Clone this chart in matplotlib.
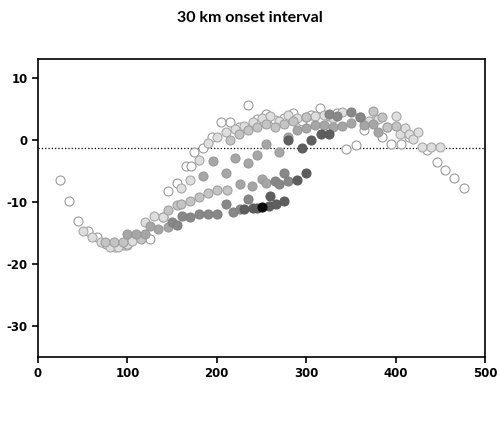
import matplotlib.pyplot as plt

plt.rcParams['font.family'] = ['Lato', 'DejaVu Sans']
plt.rcParams['axes.unicode_minus'] = False

# open circles
open_x = [25, 35, 45, 56, 66, 76, 86, 96, 100, 125, 140, 145, 155, 165, 171, 175, 185, 195, 205, 215,
          225, 235, 245, 255, 265, 275, 285, 295, 305, 315, 325, 335, 345, 356, 365, 375, 385, 395, 406,
          415, 435, 446, 455, 465, 476]
open_y = [-6.4, -9.9, -13.1, -14.7, -15.6, -16.8, -17.2, -17.0, -17.0, -16.0, -12.5, -8.2, -7.0, -4.3, -4.3,
          -1.9, -1.4, 0.4, 2.8, 2.8, 2.0, 5.6, 3.3, 4.1, 3.2, 3.5, 4.3, 3.0, 4.0, 5.1, 3.8, 4.3, -1.5, -0.8,
          1.5, 3.0, 0.5, -0.6, -0.6, 0.4, -1.7, -3.6, -4.9, -6.2, -7.8]

# lightest grey
g1_x = [50, 60, 70, 80, 90, 100, 105, 120, 130, 140, 160, 170, 180, 190, 200, 210, 220, 230, 240, 250,
        260, 270, 280, 290, 300, 310, 320, 330, 340, 360, 370, 380, 390, 400, 405, 410, 415, 420, 425,
        430, 440, 450]
g1_y = [-14.7, -15.6, -16.5, -17.2, -17.2, -16.8, -16.3, -13.2, -12.3, -12.4, -7.8, -6.5, -3.2, -0.5, 0.5,
        1.2, 1.8, 2.3, 2.8, 3.5, 3.8, 3.0, 4.0, 3.5, 3.7, 3.8, 4.0, 3.5, 4.4, 3.7, 3.0, 3.3, 2.1, 3.9, 0.9,
        1.9, 1.0, 0.1, 1.2, -1.2, -1.2, -1.2]

# light grey
g2_x = [75, 85, 95, 115, 145, 155, 160, 170, 180, 190, 200, 211, 215, 225, 235, 245, 255, 265, 275, 285,
        300, 375, 385, 390, 401]
g2_y = [-16.4, -16.4, -16.4, -16.0, -11.3, -10.5, -10.4, -9.9, -9.2, -8.5, -8.1, -8.1, 0.0, 1.0, 1.5, 2.0,
        2.5, 2.0, 2.5, 3.0, 3.7, 4.6, 3.7, 2.1, 2.2]

# mid grey
g3_x = [100, 110, 120, 125, 134, 145, 185, 196, 210, 220, 226, 235, 239, 245, 250, 255, 255, 270, 280,
        290, 300, 310, 320, 330, 340, 350, 365, 375, 380]
g3_y = [-15.2, -15.2, -15.2, -13.9, -14.3, -14.0, -5.8, -3.4, -5.3, -2.9, -7.2, -3.7, -7.5, -2.4, -6.3,
        -0.7, -6.9, -2.0, 0.5, 1.5, 1.9, 2.4, 2.4, 2.0, 2.3, 2.7, 2.4, 2.5, 1.3]

# darker grey
g4_x = [150, 155, 161, 170, 180, 190, 200, 210, 218, 226, 235, 265, 270, 275, 280, 325, 335, 350, 360]
g4_y = [-13.3, -13.8, -12.3, -12.5, -12.0, -12.0, -12.0, -10.4, -11.7, -11.2, -9.6, -6.7, -7.1, -5.3, -6.7,
        4.2, 3.9, 4.4, 3.7]

# dark grey
g5_x = [230, 240, 245, 258, 260, 266, 275, 280, 290, 295, 300, 305, 316, 326]
g5_y = [-11.2, -11.0, -11.0, -10.6, -9.0, -10.4, -9.9, 0.0, -6.5, -1.3, -5.3, 0.0, 0.9, 0.9]

# darkest
g6_x = [251]
g6_y = [-10.8]

fig = plt.figure(figsize=(5, 4.38), dpi=100)
ax = fig.add_axes([0.076, 0.185, 0.894, 0.68])

ms = 42
ax.scatter(open_x, open_y, s=ms, facecolor='white', edgecolor='#9a9a9a', linewidth=0.8, zorder=3)
ax.scatter(g1_x, g1_y, s=ms, facecolor='#dedede', edgecolor='#a8a8a8', linewidth=0.8, zorder=3)
ax.scatter(g2_x, g2_y, s=ms, facecolor='#c4c4c4', edgecolor='#a0a0a0', linewidth=0.8, zorder=3)
ax.scatter(g3_x, g3_y, s=ms, facecolor='#a6a6a6', edgecolor='#999999', linewidth=0.8, zorder=3)
ax.scatter(g4_x, g4_y, s=ms, facecolor='#888888', edgecolor='#808080', linewidth=0.8, zorder=3)
ax.scatter(g5_x, g5_y, s=ms, facecolor='#5e5e5e', edgecolor='#5a5a5a', linewidth=0.8, zorder=3)
ax.scatter(g6_x, g6_y, s=ms, facecolor='#0a0a0a', edgecolor='#0a0a0a', linewidth=0.8, zorder=4)

ax.axhline(-1.3, color='black', linestyle=':', linewidth=0.9, zorder=1)

ax.set_xlim(0, 500)
ax.set_ylim(-35, 13)
ax.set_xticks([0, 100, 200, 300, 400, 500])
ax.set_yticks([10, 0, -10, -20, -30])
for sp in ax.spines.values():
    sp.set_linewidth(1.2)
ax.tick_params(direction='out', length=4, width=1.2)
for lab in ax.get_xticklabels() + ax.get_yticklabels():
    lab.set_fontweight('bold')
    lab.set_fontfamily('DejaVu Sans')
    lab.set_fontsize(8.5)

fig.text(0.5, 0.958, '30 km onset interval', ha='center', va='center', fontsize=11.5, fontweight='bold')

fig.savefig('out.png', dpi=100)
